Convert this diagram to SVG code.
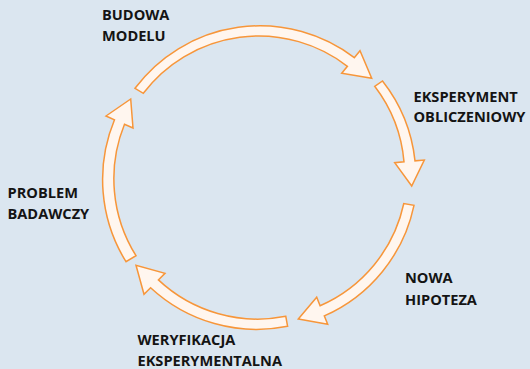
<svg xmlns="http://www.w3.org/2000/svg" width="530" height="369" viewBox="0 0 530 369">
<style>
.bg{fill:#DBE6F0}
.arrow{fill:#FFF6EF;stroke:#F7963A;stroke-width:1.5;stroke-linejoin:miter}
.lbl{font-family:"Open Sans","Liberation Sans",sans-serif;font-weight:700;font-size:14.6px;fill:#141414}
</style>
<rect class="bg" x="0" y="0" width="530" height="369"/>
<g id="connectors">
<path id="arrow-problem-budowa" class="arrow" d="M126,261.7 A156 156 0 0 1 114.5,119.8 L106,116 L130.7,99 L133,128 L124.5,124.2 A145 145 0 0 0 136,255.7 Z"/>
<path id="arrow-budowa-eksperyment" class="arrow" d="M135,88.3 A156 156 0 0 1 354.3,57.7 L360,50.7 L371.7,78.3 L341.7,73.3 L347.4,66.3 A145 145 0 0 0 143.3,93.3 Z"/>
<path id="arrow-eksperyment-nowa" class="arrow" d="M382.5,81 A156 156 0 0 1 415,160.85 L424.3,160 L411.7,186 L394.7,162.7 L404,161.85 A145 145 0 0 0 374.7,86.3 Z"/>
<path id="arrow-nowa-weryfikacja" class="arrow" d="M414,205.3 A156 156 0 0 1 324.3,315.9 L327.7,324.3 L298.3,319 L316.7,297.3 L320.1,305.7 A145 145 0 0 0 403.8,203.5 Z"/>
<path id="arrow-weryfikacja-problem" class="arrow" d="M287.6,326.3 A156 156 0 0 1 150.6,287.7 L144,294.3 L136,265.3 L165,273.3 L158.4,279.9 A145 145 0 0 0 285.8,316.3 Z"/>
</g>
<g id="node-budowa"><text class="lbl" x="102" y="20">BUDOWA</text><text class="lbl" x="102" y="40.5">MODELU</text></g>
<g id="node-eksperyment"><text class="lbl" x="413.5" y="101.7">EKSPERYMENT</text><text class="lbl" x="413.5" y="122.3">OBLICZENIOWY</text></g>
<g id="node-nowa"><text class="lbl" x="405" y="282.6">NOWA</text><text class="lbl" x="405" y="304.8">HIPOTEZA</text></g>
<g id="node-weryfikacja"><text class="lbl" x="137.5" y="345">WERYFIKACJA</text><text class="lbl" x="137.5" y="366.3">EKSPERYMENTALNA</text></g>
<g id="node-problem"><text class="lbl" x="7.5" y="198.3">PROBLEM</text><text class="lbl" x="7.5" y="219">BADAWCZY</text></g>
</svg>
